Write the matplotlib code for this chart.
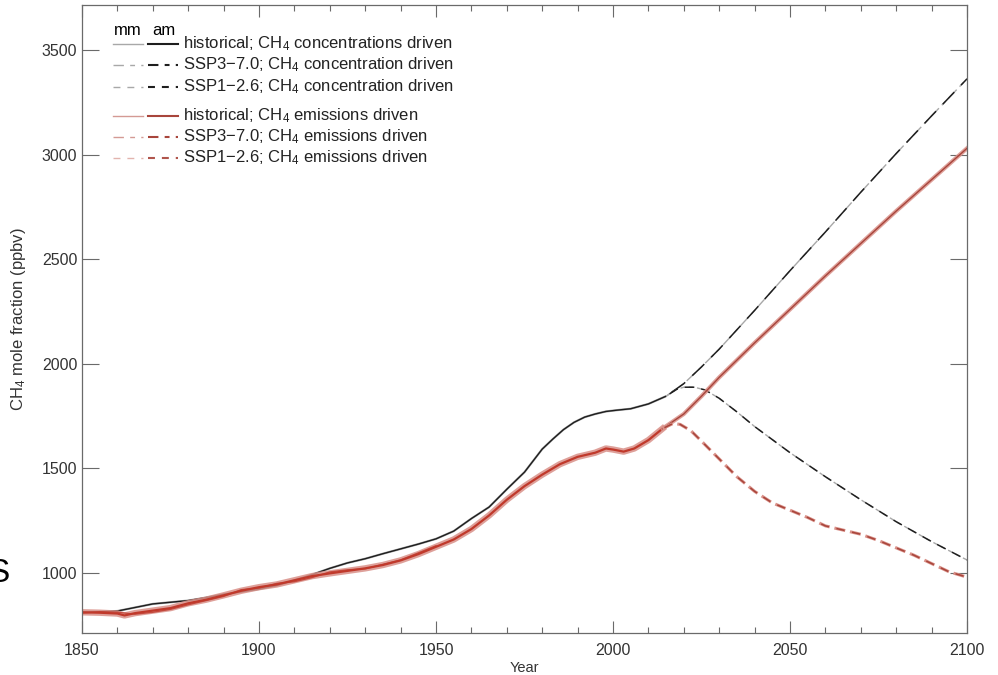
import numpy as np
import matplotlib
matplotlib.use("Agg")
import matplotlib.pyplot as plt
from matplotlib.lines import Line2D

plt.rcParams['font.family'] = ['Liberation Sans', 'DejaVu Sans']
plt.rcParams['mathtext.default'] = 'regular'
plt.rcParams['lines.scale_dashes'] = False

# --- data (ppbv) ---
conc_hist_years = [1850, 1855, 1860, 1865, 1870, 1875, 1880, 1885, 1890, 1895,
                   1900, 1905, 1910, 1915, 1920, 1925, 1930, 1935, 1940, 1945,
                   1950, 1955, 1960, 1965, 1970, 1975, 1980, 1983, 1986, 1989,
                   1992, 1995, 1998, 2001, 2005, 2010, 2015]
conc_hist = [813, 815, 818, 835, 852, 860, 868, 882, 898, 910,
             923, 940, 965, 992, 1022, 1048, 1068, 1092, 1115, 1138,
             1163, 1200, 1260, 1315, 1400, 1482, 1592, 1640, 1685, 1720,
             1745, 1760, 1772, 1778, 1785, 1808, 1845]

emis_hist_years = [1850, 1855, 1860, 1862, 1865, 1870, 1875, 1880, 1885, 1890,
                   1895, 1900, 1905, 1910, 1915, 1920, 1925, 1930, 1935, 1940,
                   1945, 1950, 1955, 1960, 1965, 1970, 1975, 1980, 1985, 1990,
                   1995, 1998, 2000, 2003, 2006, 2010, 2014]
emis_hist = [812, 810, 806, 797, 808, 820, 832, 855, 872, 893,
             915, 932, 945, 965, 985, 998, 1010, 1022, 1038, 1060,
             1090, 1125, 1160, 1210, 1275, 1350, 1415, 1470, 1520, 1555,
             1575, 1595, 1590, 1580, 1595, 1635, 1690]

# second ensemble member, visible in the early period
emis_hist2_years = [1850, 1855, 1860, 1865, 1870, 1875, 1880, 1885, 1890, 1895,
                    1900, 1905, 1910, 1915, 1920, 1925, 1930, 1940, 1950]
emis_hist2 = [808, 815, 812, 803, 812, 826, 848, 868, 888, 920,
              928, 950, 958, 978, 1005, 1015, 1020, 1062, 1130]

ssp370_conc_years = [2015, 2020, 2025, 2030, 2040, 2050, 2060, 2070, 2080, 2090, 2100]
ssp370_conc = [1845, 1905, 1985, 2070, 2255, 2445, 2630, 2820, 3005, 3185, 3362]

ssp126_conc_years = [2015, 2018, 2020, 2023, 2026, 2030, 2035, 2040, 2050, 2060,
                     2070, 2080, 2090, 2100]
ssp126_conc = [1845, 1878, 1888, 1888, 1875, 1835, 1770, 1700, 1575, 1460,
               1350, 1245, 1150, 1062]

ssp370_emis_years = [2014, 2020, 2025, 2030, 2040, 2050, 2060, 2070, 2080, 2090, 2100]
ssp370_emis = [1690, 1760, 1845, 1935, 2100, 2260, 2420, 2575, 2730, 2880, 3030]

ssp126_emis_years = [2014, 2017, 2019, 2022, 2025, 2030, 2035, 2040, 2045, 2050,
                     2055, 2060, 2065, 2070, 2075, 2080, 2085, 2090, 2095, 2100]
ssp126_emis = [1690, 1715, 1710, 1680, 1630, 1545, 1460, 1390, 1335, 1300,
               1265, 1225, 1205, 1185, 1155, 1120, 1085, 1045, 1005, 980]

# --- styles ---
GREY_MM = '#a8a8a8'
BLACK_AM = '#1e1e1e'
RED_MM = '#d99088'
RED_AM = '#c0392b'
RED_AM2 = '#a8453b'
DASH_370 = (8.5, 3.0, 4.0, 3.0)

fig = plt.figure(figsize=(9.98, 6.75), dpi=100)
W, H = 998.0, 675.0
ax = fig.add_axes([82 / W, 1 - 633 / H, (967 - 82) / W, (633 - 5) / H])

# concentration driven: mm (grey) under am (black)
ax.plot(conc_hist_years, conc_hist, color=GREY_MM, lw=1.6, solid_capstyle='butt')
ax.plot(conc_hist_years, conc_hist, color=BLACK_AM, lw=1.0)
l = ax.plot(ssp370_conc_years, ssp370_conc, color=GREY_MM, lw=1.0)[0]
l.set_dashes(DASH_370)
l = ax.plot(ssp370_conc_years, ssp370_conc, color=BLACK_AM, lw=1.1)[0]
l.set_dashes((0, 5.0, 12.0, 2.0))
l = ax.plot(ssp126_conc_years, ssp126_conc, color=GREY_MM, lw=1.0)[0]
l.set_dashes((3.0, 3.0))
l = ax.plot(ssp126_conc_years, ssp126_conc, color=BLACK_AM, lw=1.1)[0]
l.set_dashes((0, 3.0, 7.0, 2.0))

# emissions driven: mm band (light red) under am (red)
ax.plot(emis_hist_years, emis_hist, color=RED_MM, lw=4.6, alpha=0.85)
ax.plot(emis_hist2_years, emis_hist2, color=RED_AM, lw=1.0, alpha=0.8)
ax.plot(emis_hist_years, emis_hist, color=RED_AM, lw=1.6)
ax.plot(ssp370_emis_years, ssp370_emis, color=RED_MM, lw=3.0, alpha=0.85)
ax.plot(ssp370_emis_years, ssp370_emis, color=RED_AM2, lw=1.0)
l = ax.plot(ssp126_emis_years, ssp126_emis, color=RED_MM, lw=2.2)[0]
l.set_dashes((8.0, 3.5))
l = ax.plot(ssp126_emis_years, ssp126_emis, color=RED_AM2, lw=1.1)[0]
l.set_dashes((0, 1.5, 6.0, 4.0))

ax.set_xlim(1850, 2100)
ax.set_ylim(713, 3715)
ax.set_xticks(np.arange(1850, 2101, 50))
ax.set_xticks(np.arange(1850, 2101, 10), minor=True)
ax.set_yticks(np.arange(1000, 3501, 500))

for s in ax.spines.values():
    s.set_color('#6a6a6a')
    s.set_linewidth(0.9)
ax.tick_params(axis='x', which='major', direction='in', top=True, length=8.6,
               width=0.8, color='#6a6a6a', labelsize=11.5, labelcolor='#333333', pad=7)
ax.tick_params(axis='x', which='minor', direction='in', top=True, length=4.3,
               width=0.8, color='#6a6a6a')
ax.tick_params(axis='y', which='major', direction='in', right=True, length=12.2,
               width=0.8, color='#6a6a6a', labelsize=11.5, labelcolor='#333333', pad=3.5)

ax.set_xlabel('Year', fontsize=10.5, color='#333333', labelpad=2)
ax.set_ylabel('CH$_4$ mole fraction (ppbv)', fontsize=12, color='#333333', labelpad=10)

# --- legend drawn by hand (mm / am columns) ---
def fx(px):
    return px / W

def fy(py):
    return 1 - py / H

fig.text(fx(114), fy(35), 'mm', fontsize=12, color='black', va='baseline')
fig.text(fx(152), fy(35), 'am', fontsize=12, color='black', va='baseline')

rows = [
    (44, GREY_MM, BLACK_AM, None, 'historical; CH$_4$ concentrations driven'),
    (65, GREY_MM, BLACK_AM, (7.5, 4.5, 3.5, 4.5), 'SSP3$-$7.0; CH$_4$ concentration driven'),
    (87, GREY_MM, BLACK_AM, (5.0, 5.0), 'SSP1$-$2.6; CH$_4$ concentration driven'),
    (116, '#d49a94', RED_AM2, None, 'historical; CH$_4$ emissions driven'),
    (137, '#d49a94', RED_AM2, (7.5, 4.5, 3.5, 4.5), 'SSP3$-$7.0; CH$_4$ emissions driven'),
    (158, '#e2b4ae', '#b0554c', (5.0, 5.0), 'SSP1$-$2.6; CH$_4$ emissions driven'),
]
for py, cmm, cam, dash, label in rows:
    a = Line2D([fx(113), fx(143)], [fy(py), fy(py)], transform=fig.transFigure,
               color=cmm, lw=1.0)
    b = Line2D([fx(148), fx(178)], [fy(py), fy(py)], transform=fig.transFigure,
               color=cam, lw=1.5)
    if dash is not None:
        a.set_dashes(dash)
        b.set_dashes(dash)
    fig.add_artist(a)
    fig.add_artist(b)
    fig.text(fx(183), fy(py), label, fontsize=12, color='#222222', va='center')

# clipped letter at the left edge
fig.text(-13 / W, fy(582), 'S', fontsize=24, color='black', va='baseline')

fig.savefig('out.png', dpi=100)
